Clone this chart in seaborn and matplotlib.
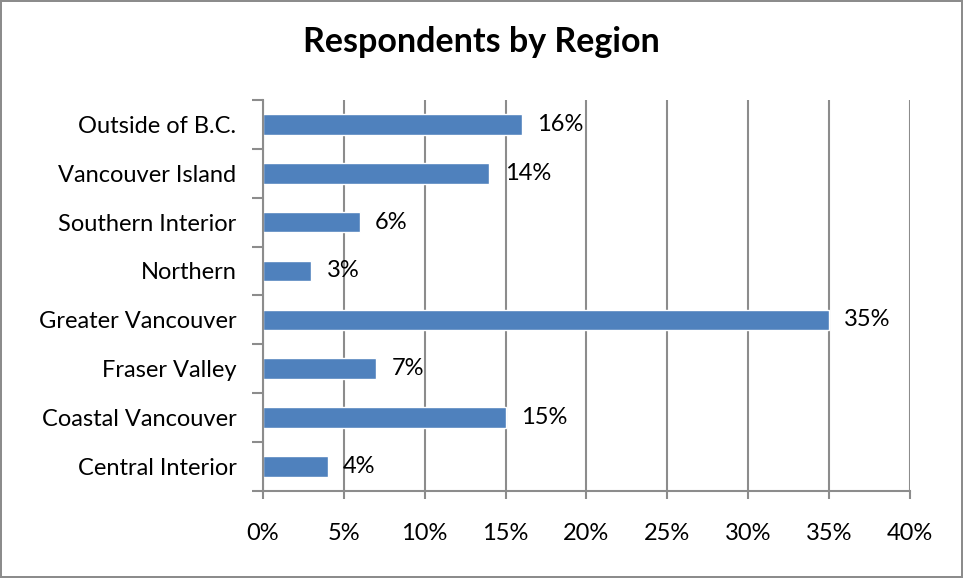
import matplotlib
matplotlib.use("Agg")
import matplotlib.pyplot as plt
import seaborn as sns
import pandas as pd
from matplotlib.ticker import FixedLocator

# Chart data
regions = ["Outside of B.C.", "Vancouver Island", "Southern Interior", "Northern",
           "Greater Vancouver", "Fraser Valley", "Coastal Vancouver", "Central Interior"]
shares = [16, 14, 6, 3, 35, 7, 15, 4]
x_ticks = [0, 5, 10, 15, 20, 25, 30, 35, 40]

df = pd.DataFrame({"Region": regions, "Share": shares})

sns.set_style("white")
plt.rcParams["font.family"] = ["Lato", "DejaVu Sans"]
plt.rcParams["text.color"] = "black"
plt.rcParams["xtick.labelcolor"] = "black"
plt.rcParams["ytick.labelcolor"] = "black"

fig = plt.figure(figsize=(9.63, 5.78), dpi=100, edgecolor="#8c8c8c", linewidth=1.5)
ax = fig.add_axes([0.273, 0.151, 0.672, 0.676])

sns.barplot(data=df, x="Share", y="Region", order=regions, color="#4F81BD",
            saturation=1, width=0.42, ax=ax)

# value labels to the right of each bar
ax.bar_label(ax.containers[0], labels=[f"{v}%" for v in shares], padding=11,
             fontsize=17, color="black")

ax.set_xlim(0, 40)
ax.set_ylim(len(regions) - 0.5, -0.5)
ax.set_xticks(x_ticks)
ax.set_xticklabels([f"{t}%" for t in x_ticks], fontsize=17)
ax.tick_params(axis="x", direction="out", length=6, width=1.5, color="#8c8c8c",
               pad=17, bottom=True)
ax.tick_params(axis="y", which="major", length=0, pad=19, labelsize=17)
ax.yaxis.set_minor_locator(FixedLocator([i - 0.5 for i in range(len(regions) + 1)]))
ax.tick_params(axis="y", which="minor", direction="out", length=8, width=1.5,
               color="#8c8c8c", left=True)

ax.xaxis.grid(True, color="#8c8c8c", linewidth=1.5)
ax.set_axisbelow(True)
for s in ["top", "right"]:
    ax.spines[s].set_visible(False)
for s in ["left", "bottom"]:
    ax.spines[s].set_color("#8c8c8c")
    ax.spines[s].set_linewidth(1.5)

ax.set_xlabel("")
ax.set_ylabel("")
fig.suptitle("Respondents by Region", x=0.5, y=0.955, fontsize=24.5, fontweight="bold")

fig.savefig("out.png", dpi=100, edgecolor=fig.get_edgecolor())
